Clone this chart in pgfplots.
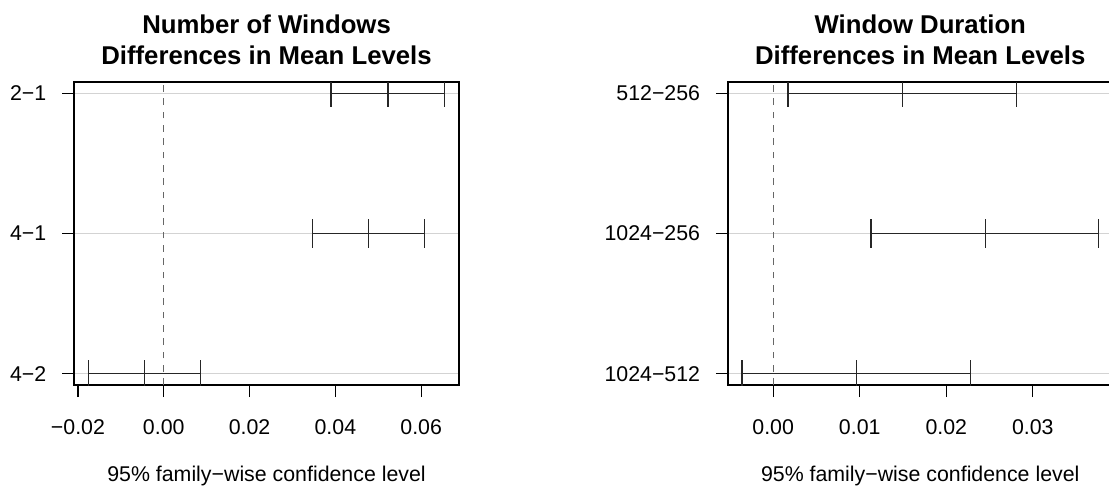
\documentclass[border=0pt]{standalone}
\usepackage{fontspec}
\setmainfont{Liberation Sans}
\usepackage{pgfplots}
\pgfplotsset{compat=1.18}
\definecolor{lgray}{RGB}{211,211,211}
\pgfplotstableread{
x y
0.0390 3
0.0523 3
0.0655 3
}\La
\pgfplotstableread{
x y
0.0346 2
0.0477 2
0.0608 2
}\Lb
\pgfplotstableread{
x y
-0.0176 1
-0.0045 1
0.0086 1
}\Lc
\pgfplotstableread{
x y
0.0017 3
0.0149 3
0.0281 3
}\Ra
\pgfplotstableread{
x y
0.0113 2
0.0245 2
0.0376 2
}\Rb
\pgfplotstableread{
x y
-0.0036 1
0.0096 1
0.0228 1
}\Rc
\begin{document}
\begin{tikzpicture}[x=1pt,y=1pt]
\useasboundingbox (0pt,0pt) rectangle (831.75pt,365.25pt);
\clip (0pt,0pt) rectangle (831.75pt,365.25pt);
\pgfplotsset{
  tk/.style={
    scale only axis, width=288.75pt, height=227.25pt, anchor=south west,
    ymin=0.92, ymax=3.08, ytick={1,2,3},
    scaled x ticks=false,
    tick align=outside, xtick pos=bottom, ytick pos=left,
    major tick length=9pt,
    tick style={black, line width=0.9pt},
    axis line style={line width=1.1pt},
    ymajorgrids, grid style={lgray, line width=0.6pt},
    xticklabel style={font=\fontsize{16}{19}\selectfont, inner sep=0pt, anchor=north, yshift=-16.5pt},
    yticklabel style={font=\fontsize{16}{19}\selectfont, inner sep=0pt, anchor=east, xshift=-11.6pt},
  },
  bar/.style={black!85, line width=0.95pt, mark=none,
    error bars/.cd, y dir=both, y fixed=0.1, error mark=none,
    error bar style={line width=0.95pt, black!85}},
  zl/.style={black!60, line width=0.7pt, dash pattern=on 5pt off 5pt},
}
\begin{axis}[tk, at={(55.5pt,76.5pt)},
  xmin=-0.02092, xmax=0.06882,
  xtick={-0.02,0,0.02,0.04,0.06},
  xticklabels={−0.02,0.00,0.02,0.04,0.06},
  yticklabels={4−2,4−1,2−1}]
\addplot[zl] coordinates {(0,0.92) (0,3.08)};
\addplot[bar] table {\La};
\addplot[bar] table {\Lb};
\addplot[bar] table {\Lc};
\end{axis}
\begin{axis}[tk, at={(545.85pt,76.5pt)},
  xmin=-0.005248, xmax=0.03925,
  xtick={0,0.01,0.02,0.03},
  xticklabels={0.00,0.01,0.02,0.03},
  yticklabels={1024−512,1024−256,512−256}]
\addplot[zl] coordinates {(0,0.92) (0,3.08)};
\addplot[bar] table {\Ra};
\addplot[bar] table {\Rb};
\addplot[bar] table {\Rc};
\end{axis}
\begin{scope}[font=\fontsize{19.3}{23}\selectfont\bfseries]
\node[anchor=base] at (199.9pt,340.3pt) {Number of Windows};
\node[anchor=base] at (199.9pt,317.0pt) {Differences in Mean Levels};
\node[anchor=base] at (690.2pt,340.3pt) {Window Duration};
\node[anchor=base] at (690.2pt,317.0pt) {Differences in Mean Levels};
\end{scope}
\begin{scope}[font=\fontsize{16}{19}\selectfont]
\node[anchor=base] at (199.9pt,4.5pt) {95\% family−wise confidence level};
\node[anchor=base] at (690.2pt,4.5pt) {95\% family−wise confidence level};
\end{scope}
\end{tikzpicture}
\end{document}
